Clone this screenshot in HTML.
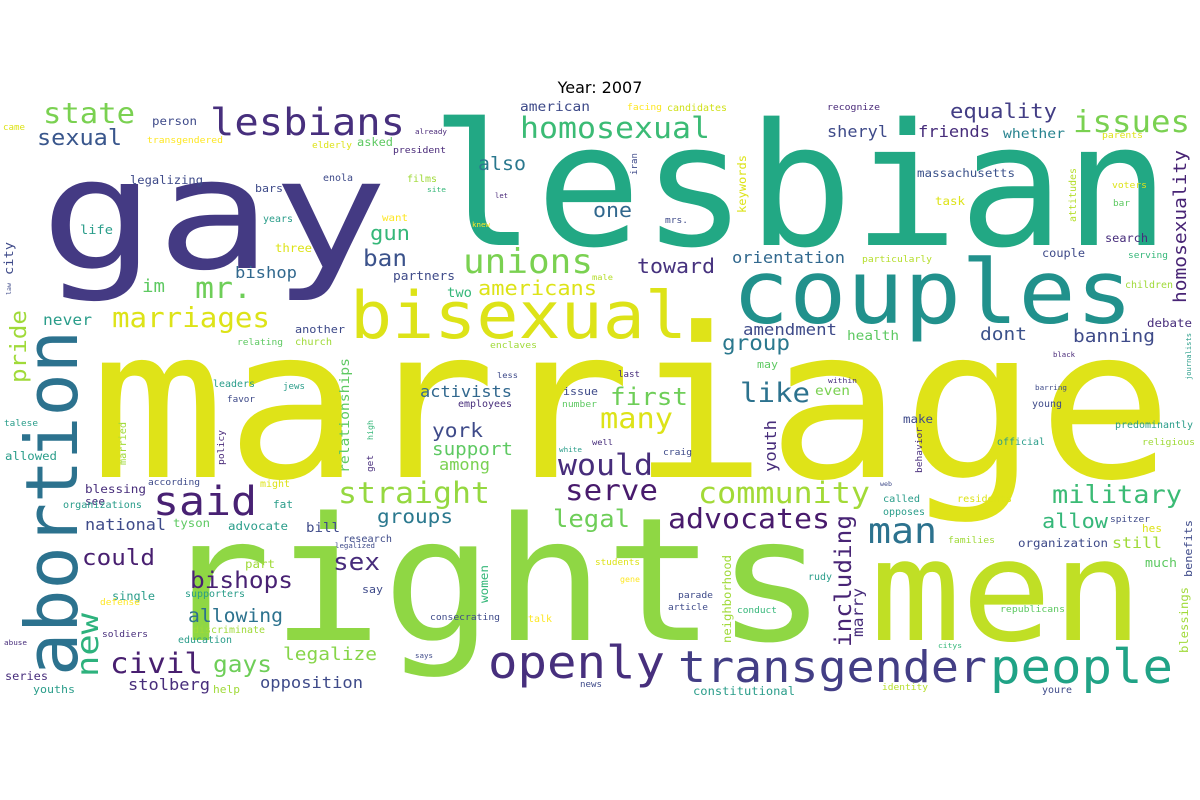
<!DOCTYPE html>
<html>
<head>
<meta charset="utf-8">
<style>
  html,body{margin:0;padding:0;background:#fff;}
  body{width:1200px;height:800px;overflow:hidden;}
  svg{display:block;}
  .w{font-family:"DejaVu Sans Mono","Liberation Mono",monospace;}
</style>
</head>
<body>
<svg id="cloud" width="1200" height="800" viewBox="0 0 1200 800" xmlns="http://www.w3.org/2000/svg">
  <rect x="0" y="0" width="1200" height="800" fill="#ffffff"/>
  <text x="600" y="93" text-anchor="middle" font-family="DejaVu Sans, Liberation Sans, sans-serif" font-size="16" fill="#000">Year: 2007</text>
  <g id="words"></g>
</svg>
<script>
// Word-cloud terms (data) and their colour
const words = ["gay","lesbian","marriage","rights","men","couples","bisexual","abortion","openly","transgender","people",
"lesbians","state","sexual","person","came","transgendered","elderly","asked","already","president","american","homosexual","facing","candidates","recognize","equality","issues","sheryl","friends","whether","parents","homosexuality",
"also","one","iran","keywords","mrs.","massachusetts","task","attitudes","voters","bar","search","films","site","let","legalizing","bars","enola","life","years","want","knew","gun","three","unions","ban","city","law","im","mr.","bishop","partners","male","two","americans","toward","orientation","particularly","couple","serving","children",
"marriages","never","pride","another","relating","church","enclaves","amendment","health","dont","banning","debate","journalists","group","may","black","last","less","within","barring",
"first","like","even","leaders","jews","relationships","activists","issue","many","young","favor","employees","number","predominantly","make","official","religious","behavior","youth","talese","allowed","married","policy","high","get","white","well","york","support","among","would","craig",
"according","blessing","might","see","organizations","fat","said","straight","serve","community","web","military","national","tyson","advocate","bill","groups","legal","advocates","called","residents","opposes","allow","spitzer","hes","research","legalized","man","including","families","organization","still","much","benefits",
"could","sex","part","students","gene","rudy","bishops","single","supporters","say","women","defense","neighborhood","parade","article","marry","conduct","republicans","blessings","allowing","consecrating","talk","new","soldiers","discriminate","education","abuse","civil","gays","legalize","says","news","citys","series","youths","stolberg","help","opposition","constitutional","identity","youre"];
const colors = ["#443a83","#22a884","#dfe318","#8fd744","#c0df25","#21918c","#dde318","#2c728e","#472f7d","#433e85","#20a386",
"#472f7d","#7ad151","#39568c","#3e4a89","#dde318","#fde725","#dde318","#5ec962","#482878","#482878","#3e4a89","#3bbb75","#fde725","#d0e11c","#482878","#433e85","#7ad151","#3e4a89","#472d7b","#26828e","#dde318","#482475",
"#2a788e","#31688e","#3e4a89","#dde318","#3e4a89","#3b528b","#dde318","#b5de2b","#dde318","#5ec962","#472d7b","#a0da39","#35b779","#482878","#3e4a89","#3e4a89","#3e4a89","#2a9d8a","#2a9d8a","#fde725","#fde725","#35b779","#dde318","#7ad151","#3b528b","#3e4a89","#3e4a89","#5ec962","#6ece58","#31688e","#3e4a89","#b5de2b","#35b779","#dde318","#46327e","#31688e","#b5de2b","#3e4a89","#35b779","#a0da39",
"#dde318","#2a9d8a","#a0da39","#3e4a89","#5ec962","#a0da39","#a0da39","#3e4a89","#5ec962","#3b528b","#3e4a89","#472d7b","#2a9d8a","#2a788e","#5ec962","#482878","#472d7b","#3e4a89","#472d7b","#3e4a89",
"#6ece58","#2c728e","#7ad151","#2a9d8a","#2a9d8a","#5ec962","#31688e","#3e4a89","#dde318","#3e4a89","#3e4a89","#472d7b","#5ec962","#2a9d8a","#3e4a89","#2a9d8a","#a0da39","#472d7b","#472d7b","#2a9d8a","#2a9d8a","#a0da39","#482878","#35b779","#472d7b","#2a9d8a","#472d7b","#3e4a89","#5ec962","#7ad151","#472d7b","#3e4a89",
"#3e4a89","#472d7b","#dde318","#472d7b","#2a9d8a","#2a9d8a","#482173","#95d840","#481a6c","#a2da37","#3e4a89","#3bbb75","#3e4a89","#5ec962","#2a9d8a","#3e4a89","#2a788e","#6ece58","#481a6c","#2a9d8a","#dde318","#2a9d8a","#35b779","#3e4a89","#dde318","#3e4a89","#3e4a89","#2c728e","#482475","#a0da39","#3e4a89","#a0da39","#5ec962","#3e4a89",
"#481f70","#472c7b","#a0da39","#dde318","#fde725","#2a9d8a","#482173","#2a9d8a","#2a9d8a","#3e4a89","#35b779","#fde725","#a0da39","#3e4a89","#3e4a89","#472d7b","#35b779","#5ec962","#a0da39","#2c728e","#3e4a89","#fde725","#2db27d","#472d7b","#a0da39","#2a9d8a","#472d7b","#481f70","#6ece58","#86d549","#3e4a89","#3e4a89","#35b779","#472d7b","#2a9d8a","#472d7b","#a0da39","#3e4a89","#2a9d8a","#b5de2b","#3e4a89"];
// Layout of the rendered cloud (left x, baseline y, rendered length, vertical flag, optional height factor) — placement only
const layout = [
[40,268,348,0,0.8],[430,245,740,0,0.97],[90,477,1083,0],[160,640,667,0],[870,640,273,0],[732,323,401,0],[350,338,337,0],[77,676,346,1,1.0],[488,678,177,0],[678,682,309,0],[990,683,183,0],
[210,135,195,0],[43,123,92,0],[37,145,85,0],[152,125,45,0],[3,130,22,0],[147,143,76,0],[312,148,40,0],[357,146,36,0],[415,134,32,0],[393,153,53,0],[520,111,70,0],[520,138,190,0],[627,110,35,0],[667,111,60,0],[827,110,53,0],[950,118,107,0],[1073,132,117,0],[827,137,61,0],[918,137,72,0],[1003,138,62,0],[1102,138,41,0],[1186,303,153,1],
[478,170,48,0],[593,217,39,0],[637,175,22,1],[746,213,58,1],[665,223,23,0],[917,177,98,0],[935,205,30,0],[1076,222,54,1],[1112,188,35,0],[1113,206,17,0],[1105,242,43,0],[407,182,30,0],[427,192,19,0],[495,198,13,0],[130,184,73,0],[255,192,28,0],[323,181,30,0],[80,234,33,0],[263,222,30,0],[382,221,26,0],[472,227,18,0],[370,240,40,0],[275,252,37,0],[463,273,130,0],[363,266,44,0],[13,275,33,1],[11,295,12,1],[142,292,23,0],[195,298,57,0],[235,278,62,0],[393,280,62,0],[592,280,21,0],[447,297,25,0],[478,295,119,0],[637,273,78,0],[732,263,113,0],[862,262,70,0],[1042,257,43,0],[1128,258,40,0],[1125,288,48,0],
[112,327,158,0],[43,325,49,0],[26,383,73,1],[295,333,50,0],[237,345,46,0],[295,345,37,0],[490,348,47,0],[743,335,94,0],[847,340,52,0],[980,340,47,0],[1073,342,82,0],[1147,327,45,0],[1191,380,47,1],[722,350,68,0],[757,368,21,0],[1053,357,22,0],[618,377,22,0],[497,378,21,0],[828,383,29,0],[1035,390,32,0],
[610,405,78,0],[740,402,70,0],[815,395,35,0],[213,387,42,0],[283,389,22,0],[349,473,115,1],[420,397,92,0],[563,395,35,0],[600,428,73,0],[1032,407,30,0],[227,402,28,0],[458,407,54,0],[562,407,35,0],[1115,428,78,0],[903,423,30,0],[997,445,48,0],[1142,445,53,0],[922,473,46,1],[776,472,52,1],[4,426,34,0],[5,460,52,0],[126,465,43,1],[224,465,35,1],[373,440,20,1],[373,472,17,1],[559,452,23,0],[592,445,21,0],[432,437,51,0],[432,455,81,0],[439,470,51,0],[558,475,95,0],[663,455,29,0],
[148,485,52,0],[85,493,61,0],[260,487,30,0],[85,505,20,0],[63,508,79,0],[273,508,20,0],[153,515,104,0],[338,503,152,0],[565,500,93,0],[698,503,172,0],[880,486,12,0],[1052,503,130,0],[85,530,81,0],[173,527,37,0],[228,530,60,0],[306,532,34,0],[377,523,76,0],[553,527,77,0],[668,528,162,0],[883,502,37,0],[957,502,55,0],[883,515,42,0],[1042,528,66,0],[1110,522,40,0],[1142,532,20,0],[343,542,49,0],[335,548,40,0],[868,543,69,0],[851,647,132,1],[948,543,47,0],[1018,547,90,0],[1112,548,50,0],[1145,567,32,0],[1192,577,57,1],
[82,565,73,0],[333,570,47,0],[245,568,30,0],[595,565,45,0],[620,582,20,0],[808,580,24,0],[190,588,103,0],[112,600,43,0],[185,597,60,0],[362,593,21,0],[488,603,38,1],[100,605,40,0],[731,643,88,1],[678,598,35,0],[668,610,40,0],[863,637,49,1],[737,613,40,0],[1000,612,65,0],[1188,653,66,1],[188,622,95,0],[430,620,70,0],[528,622,24,0],[98,677,64,1,0.85],[102,637,46,0],[193,633,72,0],[178,643,54,0],[4,645,23,0],[110,673,93,0],[213,672,59,0],[283,660,94,0],[415,658,18,0],[580,687,22,0],[938,648,24,0],[5,680,43,0],[33,693,42,0],[128,690,82,0],[213,693,27,0],[260,688,103,0],[693,695,102,0],[882,690,46,0],[1042,693,30,0]
];

const NS = "http://www.w3.org/2000/svg";
const g = document.getElementById("words");
for (let i = 0; i < words.length; i++) {
  const wd = words[i];
  const L = layout[i];
  if (!L) continue;
  const x = L[0], y = L[1], len = L[2], vert = L[3];
  const k = L[4] || 0.93;
  const size = k * len / (wd.length * 0.602);
  const t = document.createElementNS(NS, "text");
  t.setAttribute("class", "w");
  t.setAttribute("x", x);
  t.setAttribute("y", y);
  t.setAttribute("font-size", size.toFixed(2));
  t.setAttribute("fill", colors[i] || "#3e4a89");
  t.setAttribute("textLength", len);
  t.setAttribute("lengthAdjust", "spacingAndGlyphs");
  if (vert) t.setAttribute("transform", "rotate(-90 " + x + " " + y + ")");
  t.textContent = wd;
  
  
  g.appendChild(t);
}
</script>
</body>
</html>
